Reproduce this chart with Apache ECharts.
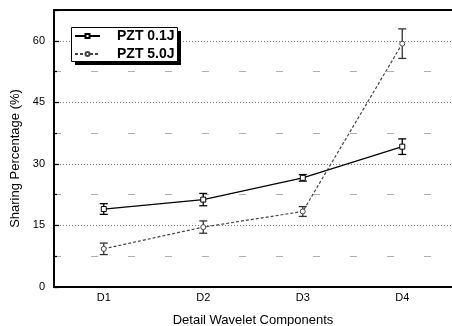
<!DOCTYPE html>
<html>
<head>
<meta charset="utf-8">
<script src="https://cdn.jsdelivr.net/npm/echarts@6/dist/echarts.min.js"></script>
<style>
  html, body { margin: 0; padding: 0; background: #fff; }
  #chart { width: 452px; height: 326px; }
</style>
</head>
<body>
<div id="chart"></div>
<script>
// Wavelet detail levels and the share (%) each one carries, with error bars
const categories = ['D1', 'D2', 'D3', 'D4'];
const seriesNames = ['PZT 0.1J', 'PZT 5.0J'];
const pzt01Mean = [19.0, 21.3, 26.6, 34.2];
const pzt01Err  = [1.3, 1.5, 0.8, 1.9];
const pzt50Mean = [9.3, 14.6, 18.4, 59.3];
const pzt50Err  = [1.4, 1.5, 1.2, 3.6];
const yTicks = [0, 15, 30, 45, 60];

const FONT = "'Liberation Sans', Arial, sans-serif";

// Vertical error bar with short caps, placed through the axis scales
function errorBars(name, mean, err, color) {
  return {
    type: 'custom',
    name: name,
    xAxisIndex: 0,
    yAxisIndex: 0,
    silent: true,
    z: 4,
    data: mean.map((m, i) => [i, m - err[i], m + err[i]]),
    renderItem(params, api) {
      const i = api.value(0);
      const lo = api.coord([i, api.value(1)]);
      const hi = api.coord([i, api.value(2)]);
      const w = 4;
      const st = { stroke: color, lineWidth: 1.3 };
      return {
        type: 'group',
        children: [
          { type: 'line', shape: { x1: lo[0], y1: lo[1], x2: hi[0], y2: hi[1] }, style: st },
          { type: 'line', shape: { x1: lo[0] - w, y1: lo[1], x2: lo[0] + w, y2: lo[1] }, style: st },
          { type: 'line', shape: { x1: hi[0] - w, y1: hi[1], x2: hi[0] + w, y2: hi[1] }, style: st }
        ]
      };
    }
  };
}

const chart = echarts.init(document.getElementById('chart'), null, { renderer: 'canvas' });

chart.setOption({
  animation: false,
  backgroundColor: '#fff',
  textStyle: { fontFamily: FONT },
  grid: { left: 54, right: 0, top: 10, bottom: 39, containLabel: false, outerBoundsMode: 'none' },
  // legend frame with a hard drop shadow
  graphic: [
    { type: 'rect', left: 75, top: 31, z: 20, shape: { width: 106, height: 34 }, style: { fill: '#000' } },
    { type: 'rect', left: 71, top: 27, z: 21, shape: { width: 106, height: 34 }, style: { fill: '#fff', stroke: '#000', lineWidth: 1 } }
  ],
  legend: {
    data: seriesNames,
    orient: 'vertical',
    left: 72,
    top: 28,
    z: 30,
    itemWidth: 25,
    itemHeight: 5,
    itemGap: 2,
    padding: [0, 0, 0, 2],
    textStyle: { fontSize: 14, fontWeight: 'bold', color: '#000', fontFamily: FONT, padding: [0, 0, 0, 12], lineHeight: 16 }
  },
  xAxis: [
    {
      type: 'category',
      position: 'bottom',
      data: categories,
      boundaryGap: true,
      name: 'Detail Wavelet Components',
      nameLocation: 'middle',
      nameGap: 27,
      nameTextStyle: { fontSize: 13, color: '#000', fontFamily: FONT },
      axisLine: { lineStyle: { color: '#000', width: 2 } },
      axisTick: { inside: true, alignWithLabel: true, length: 5, interval: 0, lineStyle: { color: '#000', width: 1.5 } },
      axisLabel: { fontSize: 11, color: '#000', margin: 5, interval: 0 },
      splitLine: { show: false }
    },
    {
      // half-way minor ticks between the categories
      type: 'category',
      position: 'bottom',
      data: categories,
      boundaryGap: true,
      axisLine: { show: false },
      axisTick: { inside: true, length: 3, interval: 0, lineStyle: { color: '#000', width: 1.5 } },
      axisLabel: { show: false },
      splitLine: { show: false }
    },
    {
      // top frame line
      type: 'category',
      position: 'top',
      data: categories,
      axisLine: { lineStyle: { color: '#000', width: 2 } },
      axisTick: { show: false },
      axisLabel: { show: false },
      splitLine: { show: false }
    }
  ],
  yAxis: {
    type: 'value',
    min: 0,
    max: 67.5,
    interval: 15,
    name: 'Sharing Percentage (%)',
    nameLocation: 'middle',
    nameGap: 25,
    nameTextStyle: { fontSize: 13, color: '#000', fontFamily: FONT, padding: [0, 0, 0, -20] },
    axisLine: { show: true, lineStyle: { color: '#000', width: 2 } },
    axisTick: { show: true, inside: true, length: 5, lineStyle: { color: '#000', width: 1.3 } },
    minorTick: { show: true, splitNumber: 2, length: 3, lineStyle: { color: '#000', width: 1.3 } },
    axisLabel: {
      fontSize: 11, color: '#000', margin: 9, showMaxLabel: false,
      formatter: v => (yTicks.indexOf(v) >= 0 ? String(v) : '')
    },
    splitLine: { show: true, lineStyle: { color: '#777', width: 1, type: [1, 2] } },
    minorSplitLine: { show: true, lineStyle: { color: '#b0b0b0', width: 1, type: [7, 30] } }
  },
  series: [
    {
      name: seriesNames[0],
      type: 'line',
      data: pzt01Mean,
      symbol: 'rect',
      symbolSize: 5,
      itemStyle: { color: '#fff', borderColor: '#000', borderWidth: 1 },
      lineStyle: { color: '#000', width: 1.3, type: 'solid' },
      z: 5
    },
    {
      name: seriesNames[1],
      type: 'line',
      data: pzt50Mean,
      symbol: 'circle',
      symbolSize: 5,
      itemStyle: { color: '#fff', borderColor: '#444', borderWidth: 1 },
      lineStyle: { color: '#444', width: 1.2, type: [3, 2] },
      z: 5
    },
    errorBars('PZT 0.1J error', pzt01Mean, pzt01Err, '#000'),
    errorBars('PZT 5.0J error', pzt50Mean, pzt50Err, '#333')
  ]
});
</script>
</body>
</html>
